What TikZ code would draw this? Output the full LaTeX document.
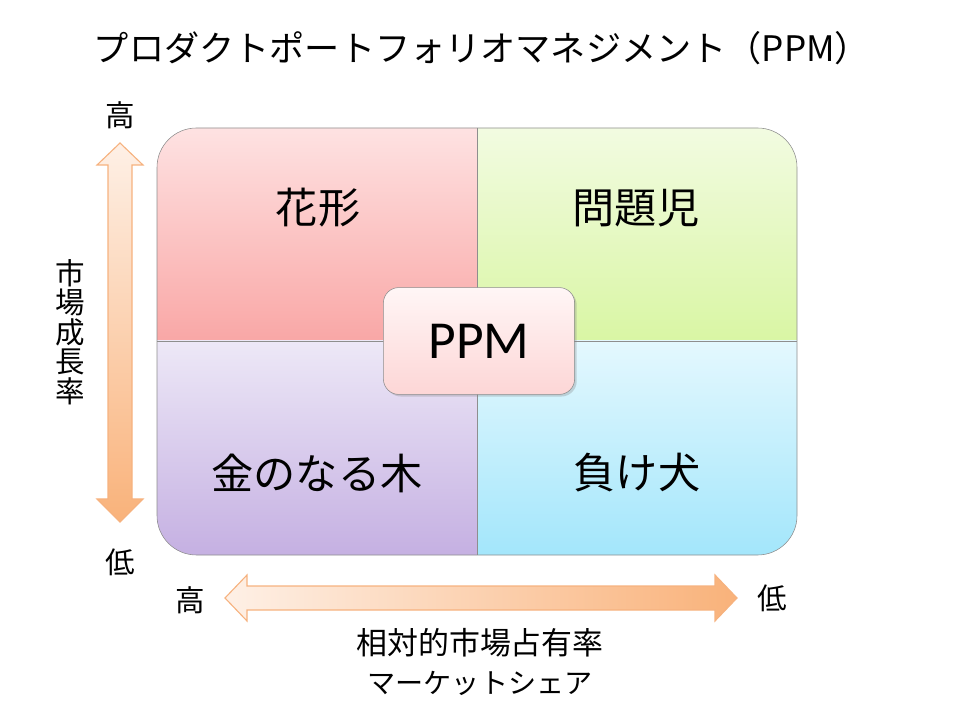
\documentclass[tikz,border=0pt]{standalone}
\usepackage{fontspec}
\setmainfont{Carlito}
\newfontfamily\jp{Noto Sans CJK JP}
\usetikzlibrary{shadows}
\definecolor{StarTop}{HTML}{FEE2E2}
\definecolor{StarBot}{HTML}{F9A7A6}
\definecolor{QuestTop}{HTML}{F2FBE1}
\definecolor{QuestBot}{HTML}{D9F6A4}
\definecolor{CowTop}{HTML}{EDE8F7}
\definecolor{CowBot}{HTML}{C5B0E2}
\definecolor{DogTop}{HTML}{E4F8FE}
\definecolor{DogBot}{HTML}{A3E6FB}
\definecolor{CoreTop}{HTML}{FFF6F6}
\definecolor{CoreBot}{HTML}{FDD6D6}
\definecolor{ArrowLight}{HTML}{FEF0E6}
\definecolor{ArrowDark}{HTML}{F9B27A}
\definecolor{ArrowEdge}{HTML}{F6B27F}
\definecolor{GridLine}{HTML}{8E8E8E}

\begin{document}
\begin{tikzpicture}[x=0.025cm,y=-0.025cm,
  quadlabel/.style={font=\jp\fontsize{30}{34}\selectfont},
  axislabel/.style={font=\jp\fontsize{21}{24}\selectfont},
  axisarrow/.style={draw=ArrowEdge,line width=0.8pt,line join=miter}]
\useasboundingbox (0,0) rectangle (960,720);
\node[font=\jp\fontsize{25}{30}\selectfont] (title) at (482,48) {プロダクトポートフォリオマネジメント（PPM）};

% matrix of four quadrants
\begin{scope}
\clip[rounded corners=28pt] (157,128) rectangle (797,555);
\shade[top color=StarTop,bottom color=StarBot] (157,128) rectangle (477,341);
\shade[top color=QuestTop,bottom color=QuestBot] (477,128) rectangle (797,341);
\shade[top color=CowTop,bottom color=CowBot] (157,341) rectangle (477,555);
\shade[top color=DogTop,bottom color=DogBot] (477,341) rectangle (797,555);
\end{scope}
\draw[GridLine,rounded corners=28pt] (157,128) rectangle (797,555);
\draw[GridLine] (477,128) -- (477,555) (157,341) -- (797,341);

\node[quadlabel] (star) at (318,208) {花形};
\node[quadlabel] (quest) at (636,208) {問題児};
\node[quadlabel] (cow) at (317,473) {金のなる木};
\node[quadlabel] (dog) at (637,473) {負け犬};

\node[draw=GridLine,rounded corners=11pt,top color=CoreTop,bottom color=CoreBot,
  minimum width=136pt,minimum height=76pt,font=\fontsize{38}{40}\selectfont,
  drop shadow={opacity=0.3,shadow xshift=1.5pt,shadow yshift=-1.5pt}] (ppm) at (479,341) {PPM};

% growth axis
\path[axisarrow,top color=ArrowLight,bottom color=ArrowDark]
  (120,143) -- (143,165) -- (132,165) -- (132,499) -- (143,499) -- (120,522)
  -- (97,499) -- (108,499) -- (108,165) -- (97,165) -- cycle;
\node[axislabel] (ghigh) at (120,115) {高};
\node[axislabel] (glow) at (120,562) {低};
\node[font=\jp\fontsize{21}{21}\selectfont,align=center] (growth) at (70,332) {市\\場\\成\\長\\率};

% share axis
\path[axisarrow,left color=ArrowLight,right color=ArrowDark]
  (225,598) -- (247,575) -- (247,586) -- (715,586) -- (715,575) -- (737,598)
  -- (715,621) -- (715,610) -- (247,610) -- (247,621) -- cycle;
\node[axislabel] (shigh) at (190,600) {高};
\node[axislabel] (slow) at (772,598) {低};
\node[font=\jp\fontsize{22}{26}\selectfont] (share) at (480,643) {相対的市場占有率};
\node[font=\jp\fontsize{20}{24}\selectfont] (sharekana) at (480,683) {マーケットシェア};
\end{tikzpicture}
\end{document}
